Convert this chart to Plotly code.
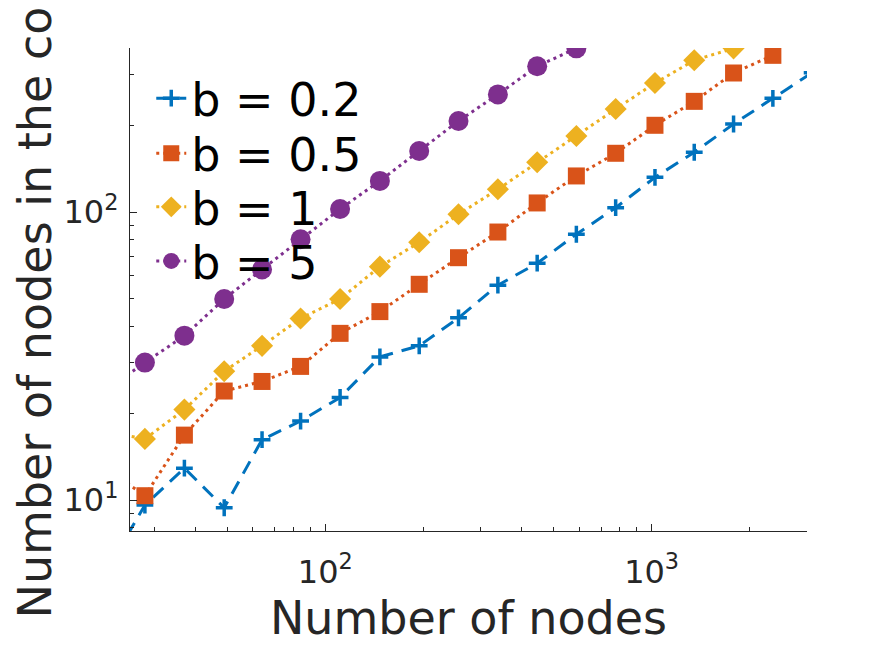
import math
import plotly.graph_objects as go

# ---- data ----
nodes = [21, 28, 37, 49, 64, 84, 111, 147, 194, 256, 338, 446, 588, 776, 1024, 1351, 1783, 2353, 3104]

core_b02 = [5.5, 9.6, 12.9, 9.4, 16.2, 18.8, 22.7, 31.4, 34.3, 42.9, 55.7, 66.4, 83.7,
            103.5, 131.9, 161.2, 202.1, 248.2, 304.6]
core_b05 = [13.0, 10.35, 16.8, 23.9, 25.8, 29.1, 37.9, 45.1, 56.1, 69.4, 85.2, 107.5,
            133.4, 159.9, 200, 242.2, 303.8, 349.9]
core_b1 = [17.3, 16.3, 20.6, 28.0, 34.3, 42.7, 49.9, 64.6, 78.5, 98.2, 119.9, 148.8,
           183.6, 227.8, 280.5, 336.3, 370]
core_b5 = [23.8, 30.0, 37.2, 49.9, 63.2, 80.4, 102.4, 128.2, 162.8, 207, 256, 320.6, 370]

series_names = ["b = 0.2", "b = 0.5", "b = 1", "b = 5"]
series_values = [core_b02, core_b05, core_b1, core_b5]

x_tickvals = [100, 1000]
x_ticktext = ["10<sup>2</sup>", "10<sup>3</sup>"]
y_tickvals = [10, 100]
y_ticktext = ["10<sup>1</sup>", "10<sup>2</sup>"]
x_minor = [30, 40, 50, 60, 70, 80, 90, 200, 300, 400, 500, 600, 700, 800, 900, 2000]
y_minor = [8, 9, 20, 30, 40, 50, 60, 70, 80, 90, 200, 300]

x_title = "Number of nodes"
y_title = "Number of nodes in the core"

# ---- styles ----
colors = ["#0072BD", "#D95319", "#EDB120", "#7E2F8E"]
symbols = ["cross-thin", "square", "diamond", "circle"]
msizes = [12, 17, 17, 20]
dashes = ["14px,9px", "3px,4px", "3px,4px", "3px,4px"]
legend_rows_y = [0.896, 0.782, 0.671, 0.559]

FONT = "DejaVu Sans"
INK = "#262626"

fig = go.Figure()
for i, (name, vals) in enumerate(zip(series_names, series_values)):
    mk = dict(symbol=symbols[i], size=msizes[i], color=colors[i])
    if symbols[i] == "cross-thin":
        mk["line"] = dict(color=colors[i], width=3.5)
    else:
        mk["line"] = dict(width=0)
    fig.add_trace(go.Scatter(
        x=nodes[:len(vals)], y=vals, name=name, mode="lines+markers",
        line=dict(color=colors[i], width=3, dash=dashes[i]),
        marker=mk,
        legend="legend" if i == 0 else f"legend{i+1}",
    ))

legend_common = dict(
    x=0.0314, xanchor="left", yanchor="middle",
    bgcolor="rgba(0,0,0,0)", borderwidth=0,
    font=dict(family=FONT, size=46, color="#000000"),
)
layout_legends = {}
for i, ly in enumerate(legend_rows_y):
    key = "legend" if i == 0 else f"legend{i+1}"
    layout_legends[key] = dict(legend_common, y=ly)

xr = [1.4015, 3.4762]
yr = [0.8924, 2.5694]

# page body has an 8px margin: the figure is sized/offset to compensate
fig.update_layout(
    width=883, height=637,
    margin=dict(l=122, r=84, t=40, b=114, autoexpand=False),
    paper_bgcolor="white", plot_bgcolor="white",
    font=dict(family=FONT, color=INK),
    showlegend=True,
    **layout_legends,
)
fig.update_xaxes(
    type="log", range=xr, showgrid=False, zeroline=False, automargin=False,
    showline=True, linecolor=INK, linewidth=1.3,
    ticks="inside", ticklen=7, tickwidth=1.2, tickcolor=INK,
    tickmode="array", tickvals=x_tickvals, ticktext=x_ticktext,
    tickfont=dict(family=FONT, size=32, color=INK), ticklabelstandoff=12,
    minor=dict(tickmode="array", tickvals=x_minor, ticks="inside", ticklen=4,
               tickwidth=1.2, tickcolor=INK, showgrid=False),
    title=dict(text=x_title, font=dict(family=FONT, size=46, color=INK), standoff=13),
)
fig.update_yaxes(
    type="log", range=yr, showgrid=False, zeroline=False, automargin=False,
    showline=True, linecolor=INK, linewidth=1.3,
    ticks="inside", ticklen=7, tickwidth=1.2, tickcolor=INK,
    tickmode="array", tickvals=y_tickvals, ticktext=y_ticktext,
    tickfont=dict(family=FONT, size=32, color=INK), ticklabelstandoff=4,
    minor=dict(tickmode="array", tickvals=y_minor, ticks="inside", ticklen=4,
               tickwidth=1.2, tickcolor=INK, showgrid=False),
    title=dict(text=y_title, font=dict(family=FONT, size=46, color=INK), standoff=12),
)

fig.write_html("out.html")
